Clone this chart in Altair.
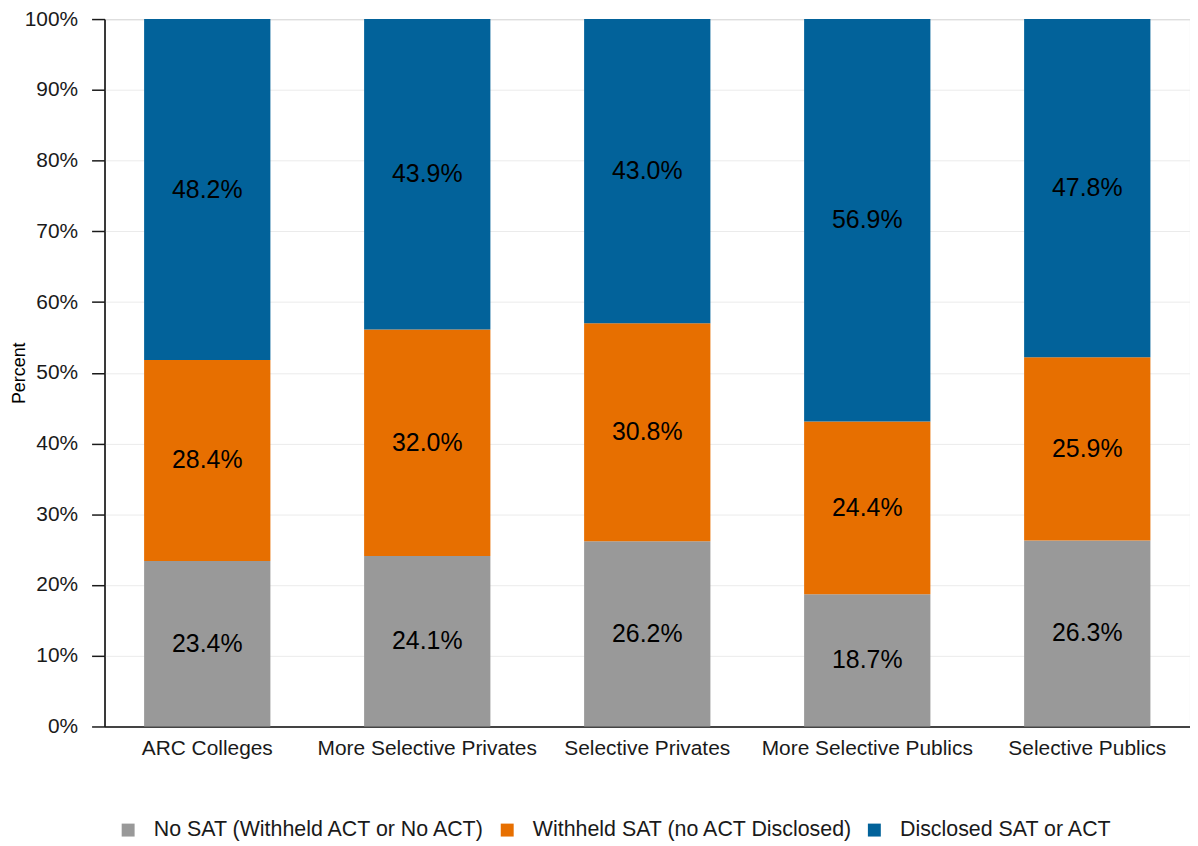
import altair as alt
import pandas as pd

categories = ["ARC Colleges", "More Selective Privates", "Selective Privates",
              "More Selective Publics", "Selective Publics"]
groups = ["No SAT (Withheld ACT or No ACT)", "Withheld SAT (no ACT Disclosed)", "Disclosed SAT or ACT"]
no_sat = [23.4, 24.1, 26.2, 18.7, 26.3]
withheld_sat = [28.4, 32.0, 30.8, 24.4, 25.9]
disclosed = [48.2, 43.9, 43.0, 56.9, 47.8]
colors = ["#999999", "#E76F00", "#02629A"]

rows = []
for i, c in enumerate(categories):
    for k, (g, vals) in enumerate(zip(groups, [no_sat, withheld_sat, disclosed])):
        rows.append({"cat": c, "group": g, "order": k, "value": vals[i]})
df = pd.DataFrame(rows)

FONT = "Liberation Sans"
H = 711

base = alt.Chart(df).transform_stack(
    stack="value", as_=["y0", "y1"], groupby=["cat"], sort=[alt.SortField("order", order="ascending")]
).transform_calculate(
    mid="(datum.y0 + datum.y1) / 2",
    label="format(datum.value, '.1f') + '%'"
)

xenc = alt.X("cat:N", sort=categories, title=None,
             scale=alt.Scale(paddingInner=0.426, paddingOuter=0.18),
             axis=alt.Axis(labelAngle=0, labelFontSize=21, labelFont=FONT, labelColor="#1a1a1a",
                           ticks=False, domainColor="#1a1a1a", domainWidth=1.5, labelPadding=11,
                           labelLimit=0, grid=False))

bars = base.mark_bar().encode(
    x=xenc,
    y=alt.Y("y0:Q", title="Percent",
            scale=alt.Scale(domain=[0, 100], nice=False, zero=True),
            axis=alt.Axis(values=list(range(0, 101, 10)), labelExpr="datum.value + '%'",
                          labelFontSize=21, labelFont=FONT, labelColor="#1a1a1a",
                          titleFontSize=18, titleFont=FONT, titleFontWeight="normal", titleColor="#000000",
                          titleX=-85, titleY=H / 2, titleAngle=270, titleBaseline="middle",
                          titleAlign="center",
                          tickSize=13, tickColor="#1a1a1a", tickWidth=1.5,
                          domainColor="#1a1a1a", domainWidth=1.5, labelPadding=14,
                          grid=True, gridColor="#ebebeb", gridWidth=1)),
    y2="y1:Q",
    color=alt.Color("group:N", sort=groups,
                    scale=alt.Scale(domain=groups, range=colors),
                    legend=alt.Legend(title=None, orient="none", legendX=13, legendY=804,
                                      direction="horizontal", symbolType="square", symbolSize=169,
                                      symbolStrokeWidth=0, labelFontSize=21.5, labelFont=FONT,
                                      labelColor="#1a1a1a", labelOffset=15, columnPadding=10,
                                      labelLimit=0, padding=0, symbolOpacity=1)),
    order=alt.Order("order:Q"),
)

texts = base.mark_text(fontSize=25, font=FONT, color="#000000", baseline="middle").encode(
    x=alt.X("cat:N", sort=categories),
    y=alt.Y("mid:Q"),
    text="label:N",
)

chart = alt.layer(bars, texts).properties(
    width=1091, height=H,
    autosize=alt.AutoSizeParams(type="none"),
    padding={"left": 97, "top": 9, "right": 0, "bottom": 118},
).configure_view(stroke="#333333", strokeWidth=1)

chart.save("out.html", embed_options={"renderer": "svg", "actions": False})
